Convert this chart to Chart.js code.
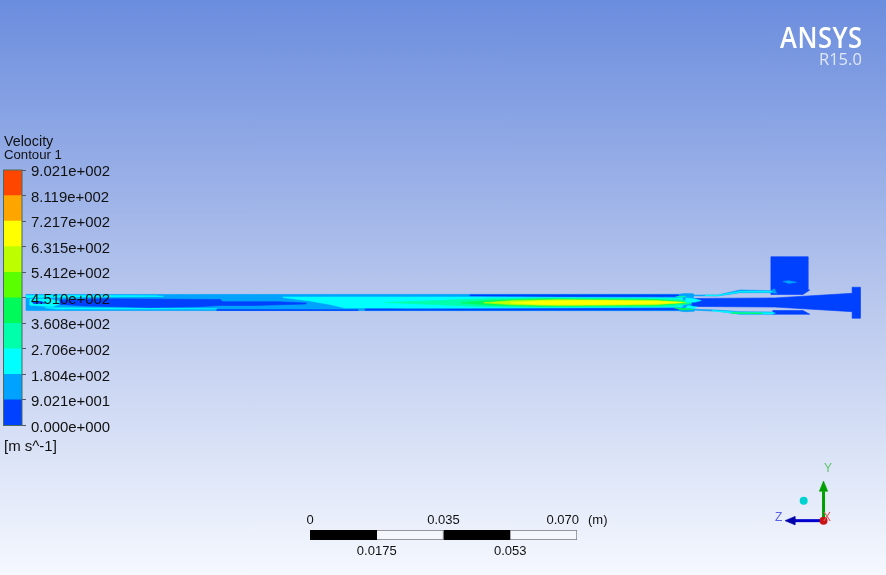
<!DOCTYPE html>
<html>
<head>
<meta charset="utf-8">
<script src="https://cdn.jsdelivr.net/npm/chart.js@4"></script>
<style>
html, body { margin: 0; padding: 0; width: 886px; height: 575px; overflow: hidden; }
body { position: relative; font-family: "Liberation Sans", Arial, sans-serif; color: #111;
       background: linear-gradient(to bottom, rgb(107,141,222) 0%, rgb(184,199,237) 52%, rgb(245,248,254) 100%); }
canvas { position: absolute; display: block; }
.t { position: absolute; white-space: nowrap; line-height: 1; }
</style>
</head>
<body>
<canvas id="flow" width="886" height="575" style="left:0;top:0"></canvas>
<canvas id="bar" width="130" height="300" style="left:0;top:150px"></canvas>
<canvas id="scale" width="330" height="60" style="left:290px;top:505px"></canvas>

<div class="t" style="left:4px;top:134px;font-size:14.3px">Velocity</div>
<div class="t" style="left:4px;top:148px;font-size:13.2px">Contour 1</div>
<div class="t" style="left:4px;top:438px;font-size:15px">[m s^-1]</div>
<div class="t" style="left:780px;top:18px;font:600 28px 'Open Sans';color:#fff;letter-spacing:0.6px;transform:scaleX(0.91);transform-origin:left top">ANSYS</div>
<div class="t" style="left:819px;top:47px;font:400 16.5px 'Open Sans';color:#dfe7fa">R15.0</div>
<div class="t" style="left:588px;top:513px;font-size:13px">(m)</div>
<div class="t" style="left:824px;top:462px;font-size:12px;color:#5cc46c">Y</div>
<div class="t" style="left:775px;top:511px;font-size:12px;color:#5a62e8">Z</div>
<div class="t" style="left:823px;top:511px;font-size:12px;color:#e05a5a">X</div>

<script>
// colour bar
const contourLevels = [0, 90.21, 180.4, 270.6, 360.8, 451.0, 541.2, 631.5, 721.7, 811.9, 902.1];
const levelLabels = ['0.000e+000', '9.021e+001', '1.804e+002', '2.706e+002', '3.608e+002', '4.510e+002',
    '5.412e+002', '6.315e+002', '7.217e+002', '8.119e+002', '9.021e+002'];
const bandColors = ['#0040ff', '#00a2ff', '#00ffff', '#00ffaa', '#00fa5a', '#5aff00', '#beff00', '#ffff00', '#ffa500', '#ff4600'];

// length scale (m)
const scaleSegments = [0.0175, 0.0175, 0.0175, 0.0175];
const scaleSegmentColors = ['#000000', '#f4f7fd', '#000000', '#f4f7fd'];
const scaleTopValues = [0, 0.035, 0.070];
const scaleTopLabels = ['0', '0.035', '0.070'];
const scaleBottomValues = [0.0175, 0.0525];
const scaleBottomLabels = ['0.0175', '0.053'];

// contour regions, [axial mm, radial mm]
const pipeBody = [[0, 2.1], [171, 2.15], [172.6, 2.35], [175, 2.3], [175.2, -2.3], [172.6, -2.4], [171, -2.15], [0, -2.1]];
const wallBottomLeft = [[50, -1.84], [87, -1.9], [87, -2.1], [50, -2.1]];
const wallBottomMid = [[88.9, -1.65], [95.4, -1.65], [100, -1.75], [171, -1.5], [171, -2.0], [100, -2.05], [88.9, -2.05]];
const wallTop = [[116.4, 2.0], [171, 2.0], [171, 1.55], [140, 1.6], [116.4, 1.7]];
const cyanCore = [[67.4, 1.44], [116.4, 1.44], [150, 1.25], [172, 1.2], [172, -1.2], [150, -1.3], [116.4, -1.44], [83.6, -1.44], [79.7, -0.52], [74.5, 0.39], [67.4, 1.31]];
const cyanTopLeft = [[0, 1.84], [20, 1.84], [34, 1.75], [36, 1.6], [15, 1.45], [0, 1.3]];
const cyanBottomLeft = [[5, -1.35], [30, -1.5], [50, -1.65], [30, -1.72], [8, -1.7]];
const cyanInlet = [[1, 0.9], [6, 0.9], [10, 0.1], [7, -1.1], [1, -0.7]];
const darkCore = [[8.9, 0.66], [20, 1.0], [32.5, 0.92], [51, 0.79], [51.5, 0.2], [66, 0.2], [73.4, -0.13], [73.4, -0.39], [60, -0.79], [51, -0.79], [45, -1.1], [32.5, -1.31], [15, -0.9], [8.9, -0.5]];
const darkInlet = [[1.5, 0.3], [4, 0.3], [5, -0.2], [2, -0.3]];
const band4Core = [[94.1, 0], [105, 0.4], [118, 0.9], [135, 1.15], [170, 0.95], [176, 0], [170, -1.0], [135, -1.2], [118, -1.0], [105, -0.45]];
const band5Core = [[114, -0.1], [122, 0.6], [135, 0.95], [165, 0.8], [175, 0], [165, -0.85], [135, -1.0], [122, -0.7]];
const band7Core = [[120, -0.1], [128, 0.55], [140, 0.75], [165, 0.55], [173, 0], [165, -0.6], [140, -0.8], [128, -0.6]];
const band8Core = [[127, -0.1], [135, 0.4], [150, 0.5], [165, 0.35], [172, 0], [165, -0.35], [150, -0.55], [135, -0.5]];

const diffuser = [[174.6, 1.05], [196.4, 1.2], [216.6, 2.4], [216.6, 4.0], [218.7, 4.0], [218.7, -4.14], [216.6, -4.14], [216.6, -2.4], [196.4, -1.2], [174.6, -1.05]];
const plenumUpper = [[195.3, 12.0], [205, 12.0], [205, 3.3], [205.5, 3.28], [203.7, 2.1], [195.3, 2.1]];
const plenumLower = [[195.8, -2.1], [203.7, -2.1], [205.5, -3.09], [195.8, -3.09]];
const plenumSpot = [[198.5, 5.5], [200, 5.7], [202, 5.3], [200, 5.0]];
const slotUpper = [[174.6, 1.97], [181.4, 1.97], [187.2, 3.28], [195.3, 3.1], [196.2, 3.6], [196.8, 2.4], [195.3, 2.57], [187.2, 2.57], [181.4, 1.7], [174.6, 1.75]];
const slotUpperCore = [[178, 1.92], [181.4, 1.88], [187.2, 2.85], [195.5, 2.85], [195.5, 2.72], [187.2, 2.72], [181.4, 1.8], [178, 1.85]];
const slotLower = [[174.6, -1.75], [181.4, -2.0], [187.2, -2.41], [195.8, -2.49], [196.6, -2.8], [195.8, -3.09], [187.2, -3.09], [181.4, -2.3], [174.6, -2.0]];
const slotLowerCore = [[180, -2.1], [187.2, -2.6], [196, -2.68], [196, -2.92], [187.2, -2.95], [180, -2.22]];
const slotLowerGreen = [[185, -2.68], [193, -2.76], [193, -2.88], [185, -2.85]];
const noseUpper = [[173, 1.2], [175, 1.05], [177, 0.5], [175.5, 0.1], [173, 0]];
const noseLower = [[173, -1.5], [175, -1.6], [176, -1.2], [173.5, -0.8]];
const shockGreenLower = [[170, -1.4], [173.5, -1.6], [175, -1.85], [172, -1.95]];
const shockGreenUpper = [[170.5, 1.55], [173, 1.6], [172, 1.3]];

// triad
const axisYHead = [[209.1, -46.8], [208, -49.5], [210.2, -49.5]];
const axisZHead = [[199, -57.2], [201.6, -56.1], [201.6, -58.3]];
const axisYLine = [[209.1, -49.5], [209.1, -57.2]];
const axisZLine = [[201.6, -57.2], [209.1, -57.2]];
const originPoint = [[209.1, -57.2]];
const viewPoint = [[203.9, -52]];

function shape(points, color) {
    const data = points.concat([points[0]]).map(p => ({x: p[0], y: p[1]}));
    return {data: data, showLine: true, polygon: true, fill: false, backgroundColor: color, borderColor: color,
        borderWidth: 0.6, pointRadius: 0, tension: 0};
}
function stroke(points, color, width) {
    return {data: points.map(p => ({x: p[0], y: p[1]})), showLine: true, fill: false, borderColor: color,
        borderWidth: width, pointRadius: 0, tension: 0};
}
function dot(points, color, radius) {
    return {data: points.map(p => ({x: p[0], y: p[1]})), showLine: false, pointRadius: radius,
        backgroundColor: color, borderColor: color, borderWidth: 0};
}

// fill from the points the scales placed
const polygonFill = {
    id: 'polygonFill',
    beforeDatasetDraw(chart, args) {
        const ds = chart.data.datasets[args.index];
        if (!ds.polygon) return;
        const ctx = chart.ctx;
        ctx.save();
        ctx.beginPath();
        args.meta.data.forEach((pt, i) => i ? ctx.lineTo(pt.x, pt.y) : ctx.moveTo(pt.x, pt.y));
        ctx.closePath();
        ctx.fillStyle = ds.backgroundColor;
        ctx.fill();
        ctx.restore();
    }
};

const [c1, c2, c3, c4, c5, c6, c7, c8] = bandColors;
// bottom layer first, reversed below since chart.js paints dataset 0 last
const layers = [
    shape(pipeBody, c2), shape(wallBottomLeft, c1), shape(wallBottomMid, c1), shape(wallTop, c1),
    shape(cyanCore, c3), shape(cyanTopLeft, c3), shape(cyanBottomLeft, c3), shape(cyanInlet, c3),
    shape(darkCore, c1), shape(darkInlet, c1),
    shape(band4Core, c4), shape(band5Core, c5), shape(band7Core, c7), shape(band8Core, c8),
    shape(diffuser, c1), shape(plenumUpper, c1), shape(plenumLower, c1), shape(plenumSpot, c2),
    shape(slotUpper, c2), shape(slotUpperCore, c3), shape(slotLower, c2), shape(slotLowerCore, c3), shape(slotLowerGreen, c5),
    shape(noseUpper, c3), shape(noseLower, c3), shape(shockGreenLower, c5), shape(shockGreenUpper, c4),
    stroke(axisYLine, '#00a000', 3), stroke(axisZLine, '#0000cc', 3),
    shape(axisYHead, '#00a000'), shape(axisZHead, '#0000aa'),
    dot(originPoint, '#c81414', 4), dot(viewPoint, '#00d2d2', 4)
];

new Chart(document.getElementById('flow'), {
    type: 'scatter',
    data: {datasets: layers.reverse()},
    options: {
        responsive: false,
        animation: false,
        layout: {padding: 0, autoPadding: false},
        plugins: {legend: {display: false}, tooltip: {enabled: false}},
        scales: {
            x: {type: 'linear', display: false, min: -6.817, max: 225.48},
            y: {type: 'linear', display: false, min: -71.45, max: 79.31}
        }
    },
    plugins: [polygonFill]
});

const outline = {
    id: 'outline',
    afterDatasetsDraw(chart) {
        const a = chart.chartArea, ctx = chart.ctx;
        ctx.save();
        ctx.strokeStyle = '#4a6a5a';
        ctx.lineWidth = 1;
        ctx.strokeRect(a.left - 0.5, a.top, a.right - a.left + 0.5, a.bottom - a.top);
        ctx.restore();
    }
};

new Chart(document.getElementById('bar'), {
    type: 'bar',
    data: {
        labels: [''],
        datasets: bandColors.map((color, i) => ({
            data: [contourLevels[i + 1] - contourLevels[i]],
            backgroundColor: color,
            borderWidth: 0
        }))
    },
    options: {
        responsive: false,
        animation: false,
        layout: {padding: {left: 4, top: 20, bottom: 24.5, right: 0}},
        plugins: {legend: {display: false}, tooltip: {enabled: false}},
        datasets: {bar: {barPercentage: 1, categoryPercentage: 1}},
        scales: {
            x: {stacked: true, display: false},
            y: {
                stacked: true,
                position: 'right',
                min: 0,
                max: 902.1,
                afterBuildTicks(axis) { axis.ticks = contourLevels.map(v => ({value: v})); },
                afterFit(axis) { axis.width = 108; },
                grid: {drawOnChartArea: false, tickLength: 4, color: '#556'},
                border: {display: false},
                ticks: {
                    autoSkip: false,
                    padding: 5,
                    labelOffset: 2,
                    color: '#111',
                    font: {family: 'Liberation Sans', size: 14.9},
                    callback: (value, i) => levelLabels[i]
                }
            }
        }
    },
    plugins: [outline]
});

const topLabels = {
    id: 'topLabels',
    afterDraw(chart) {
        const ctx = chart.ctx, x = chart.scales.x;
        ctx.save();
        ctx.fillStyle = '#111';
        ctx.font = '13px "Liberation Sans"';
        ctx.textBaseline = 'alphabetic';
        scaleTopValues.forEach((v, i) => {
            const last = i === scaleTopValues.length - 1;
            ctx.textAlign = last ? 'right' : 'center';
            ctx.fillText(scaleTopLabels[i], x.getPixelForValue(v) + (last ? 2 : 0), chart.chartArea.top - 6);
        });
        ctx.restore();
    }
};

new Chart(document.getElementById('scale'), {
    type: 'bar',
    data: {
        labels: [''],
        datasets: scaleSegments.map((v, i) => ({
            data: [v],
            backgroundColor: scaleSegmentColors[i],
            borderColor: i % 2 ? '#777' : '#000',
            borderWidth: 1
        }))
    },
    options: {
        indexAxis: 'y',
        responsive: false,
        animation: false,
        layout: {padding: {left: 20, right: 43, top: 25, bottom: 0}},
        plugins: {legend: {display: false}, tooltip: {enabled: false}},
        datasets: {bar: {barPercentage: 1, categoryPercentage: 1}},
        scales: {
            y: {stacked: true, display: false},
            x: {
                stacked: true,
                min: 0,
                max: 0.07,
                afterBuildTicks(axis) { axis.ticks = scaleBottomValues.map(v => ({value: v})); },
                afterFit(axis) { axis.height = 25; },
                grid: {display: false, drawTicks: false},
                border: {display: false},
                ticks: {
                    autoSkip: false,
                    maxRotation: 0,
                    padding: 3.5,
                    color: '#111',
                    font: {family: 'Liberation Sans', size: 13},
                    callback: (value, i) => scaleBottomLabels[i]
                }
            }
        }
    },
    plugins: [topLabels]
});
</script>
</body>
</html>
